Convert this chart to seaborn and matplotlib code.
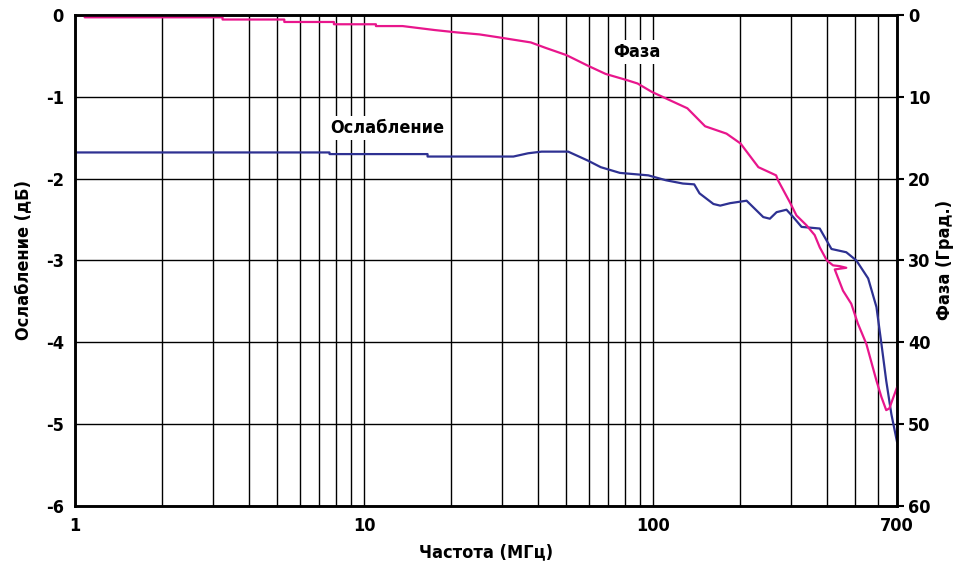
import matplotlib
matplotlib.use("Agg")
import matplotlib.pyplot as plt
import matplotlib.ticker as mticker
import seaborn as sns
import pandas as pd

# Attenuation curve (dB) vs frequency (MHz)
att_freq = [1, 7.6, 7.6, 16.6, 16.6, 32.9, 37, 41.2, 50.9, 59.6, 66, 76.9, 96.4,
            111, 127, 139, 145, 162, 171, 185, 211, 241, 254, 268, 290, 306, 327,
            378, 415, 467, 506, 556, 594, 618, 642, 669, 700]
att_db = [-1.68, -1.68, -1.70, -1.70, -1.73, -1.73, -1.69, -1.67, -1.67, -1.78, -1.86,
          -1.93, -1.96, -2.02, -2.06, -2.07, -2.18, -2.31, -2.33, -2.30, -2.27, -2.47,
          -2.49, -2.41, -2.38, -2.47, -2.59, -2.61, -2.86, -2.90, -3.00, -3.22, -3.57,
          -4.02, -4.47, -4.88, -5.22]

# Phase curve (degrees) vs frequency (MHz)
ph_freq = [1, 1.08, 1.08, 3.24, 3.24, 5.3, 5.3, 7.87, 7.87, 11, 11, 13.6, 17.6, 20.9,
           25.1, 29.3, 31.9, 37.8, 42.4, 50.2, 59.6, 68.6, 81.3, 88.5, 99.2, 117.5,
           131.6, 151.6, 179.8, 201, 231.8, 267, 271, 298, 314, 340, 363, 378, 400,
           420, 443, 467, 426, 455, 486, 512, 548, 594, 618, 642, 658, 677, 700]
ph_deg = [0.0, 0.0, 0.28, 0.28, 0.55, 0.55, 0.85, 0.85, 1.13, 1.13, 1.35, 1.35, 1.84,
          2.12, 2.37, 2.73, 2.94, 3.35, 4.0, 4.9, 6.2, 7.2, 7.96, 8.37, 9.4, 10.6, 11.4,
          13.6, 14.5, 15.7, 18.6, 19.6, 20.2, 22.9, 24.5, 25.7, 26.9, 28.4, 30.0, 30.6,
          30.7, 30.9, 31.1, 33.7, 35.3, 37.7, 40.2, 44.7, 46.7, 48.3, 48.1, 46.9, 45.5]

x_major = [1, 10, 100, 700]
x_minor = [2, 3, 4, 5, 6, 7, 8, 9, 20, 30, 40, 50, 60, 70, 80, 90,
           200, 300, 400, 500, 600]
left_ticks = [0, -1, -2, -3, -4, -5, -6]
right_ticks = [0, 10, 20, 30, 40, 50, 60]

sns.set_style("white")
plt.rcParams['font.family'] = ['DejaVu Sans']
plt.rcParams['font.stretch'] = 'condensed'
plt.rcParams['font.weight'] = 'bold'
plt.rcParams['axes.unicode_minus'] = False
for key in ('text.color', 'axes.labelcolor', 'xtick.color', 'ytick.color'):
    plt.rcParams[key] = 'black'

blue = '#2e3192'
pink = '#e8168c'

fig = plt.figure(figsize=(9.62, 5.69), dpi=100)
ax = fig.add_axes([0.078, 0.111, 0.8545, 0.8626])
ax2 = ax.twinx()

att = pd.DataFrame({'f': att_freq, 'db': att_db})
ph = pd.DataFrame({'f': ph_freq, 'deg': ph_deg})

sns.lineplot(data=att, x='f', y='db', ax=ax, color=blue, lw=1.6,
             sort=False, estimator=None)
sns.lineplot(data=ph, x='f', y='deg', ax=ax2, color=pink, lw=1.6,
             sort=False, estimator=None)

ax.set_xscale('log')
ax.set_xlim(1, 700)
ax.set_ylim(-6, 0)
ax2.set_ylim(60, 0)

ax.xaxis.set_major_locator(mticker.FixedLocator(x_major))
ax.xaxis.set_major_formatter(mticker.FixedFormatter([str(v) for v in x_major]))
ax.xaxis.set_minor_locator(mticker.FixedLocator(x_minor))
ax.xaxis.set_minor_formatter(mticker.NullFormatter())
ax.set_yticks(left_ticks)
ax.set_yticklabels([str(v) for v in left_ticks])
ax2.set_yticks(right_ticks)
ax2.set_yticklabels([str(v) for v in right_ticks])

ax.grid(True, which='both', axis='x', color='black', lw=1.0)
ax.grid(True, which='major', axis='y', color='black', lw=1.0)
ax.set_axisbelow(True)

for a in (ax, ax2):
    for s in a.spines.values():
        s.set_color('black')
        s.set_linewidth(1.8)

ax.tick_params(axis='both', which='both', length=0, labelsize=13, pad=8)
ax2.tick_params(axis='y', direction='out', length=5, width=1.5, labelsize=13, pad=3)

ax.set_xlabel('Частота (МГц)', fontsize=13, fontweight='bold', labelpad=6)
ax.set_ylabel('Ослабление (дБ)', fontsize=13, fontweight='bold', labelpad=10)
ax2.set_ylabel('Фаза (Град.)', fontsize=13, fontweight='bold', labelpad=4)

ax.text(12, -1.38, 'Ослабление', fontsize=13, fontweight='bold', ha='center',
        va='center', bbox=dict(facecolor='white', edgecolor='none', pad=2))
ax.text(88, -0.45, 'Фаза', fontsize=13, fontweight='bold', ha='center',
        va='center', bbox=dict(facecolor='white', edgecolor='none', pad=2))

fig.savefig('out.png', dpi=100)
